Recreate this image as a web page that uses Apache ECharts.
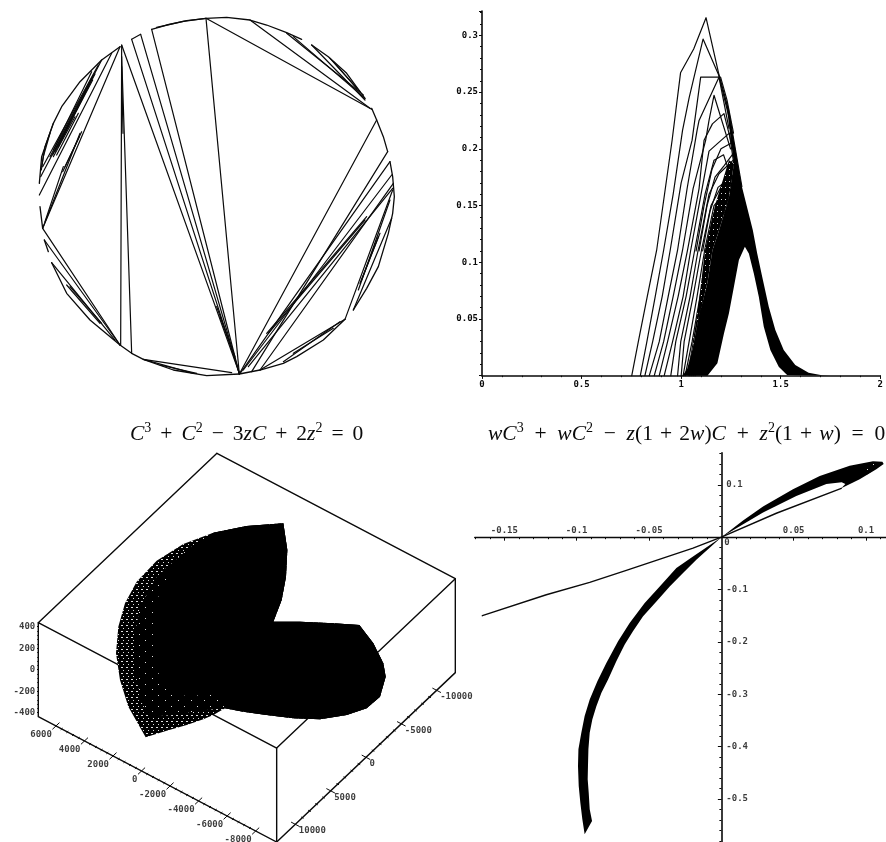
<!DOCTYPE html>
<html>
<head>
<meta charset="utf-8">
<style>html,body{margin:0;padding:0;background:#fff}#c{width:886px;height:842px}</style>
<script src="https://cdn.jsdelivr.net/npm/echarts@6/dist/echarts.min.js"></script>
</head>
<body>
<div id="c"></div>
<script>
// ---------- Panel A: image of the disc (readings on the disc's own square frame) ----------
const discFrameX = [118, 1182];
const discFrameY = [56, 1120];
const discArcs = [
  [[455,88],[500,75],[560,62],[618,55],[680,52],[750,60],[800,75],[860,98],[905,118]],
  [[470,82],[550,64],[618,55]],
  [[935,135],[985,170],[1040,220],[1095,295]],
  [[1115,325],[1130,360],[1150,410],[1163,455]],
  [[1170,485],[1178,530],[1183,590],[1178,640],[1165,700],[1135,800],[1100,865],[1060,930]],
  [[1035,958],[970,1020],[890,1070],[850,1090],[780,1110],[718,1122]],
  [[718,1122],[620,1127],[520,1110],[430,1078],[395,1060],[360,1035]],
  [[360,1035],[270,960],[200,880],[155,788]],
  [[133,720],[145,755]],
  [[128,685],[120,620]],
  [[118,550],[125,470],[160,370],[185,320],[240,245],[305,180],[360,140]]
];
const discChords = [
  [[128,685],[360,140]], [[335,160],[118,585]], [[305,180],[122,530]], [[295,195],[128,500]],
  [[275,215],[160,450]], [[160,370],[135,440],[125,500]], [[150,400],[130,470],[124,510]],
  [[240,400],[128,685]], [[190,500],[135,665]], [[225,350],[160,470]], [[235,340],[170,465]],
  [[150,470],[280,225]], [[158,465],[285,222]], [[165,455],[278,240]], [[175,440],[265,260]],
  [[195,500],[245,395]], [[188,515],[238,410]],
  [[365,135],[718,1120]], [[395,118],[718,1120]], [[395,118],[422,103]], [[422,103],[718,1120]],
  [[455,88],[718,1122]], [[618,55],[718,1122]], [[365,135],[362,1035]], [[365,170],[395,1060]],
  [[365,200],[369,400]], [[618,55],[1115,328]], [[750,60],[1110,325]], [[860,100],[1090,285]],
  [[880,110],[1095,295]], [[935,135],[1095,300]], [[990,175],[1080,275]], [[1000,185],[1070,265]],
  [[1130,360],[718,1122]], [[1163,455],[755,1115]], [[1170,485],[722,1118]], [[1175,525],[730,1110]],
  [[1180,550],[780,1110]], [[1178,565],[745,1100]], [[1100,650],[800,1000]], [[1095,660],[805,1000]],
  [[1178,570],[1035,958]], [[1035,958],[780,1110]], [[1020,965],[850,1085]], [[1000,985],[880,1060]],
  [[1175,655],[1060,930]], [[1170,600],[1075,870]], [[1140,700],[1080,850]], [[1135,710],[1085,840]],
  [[133,720],[360,1035]], [[155,788],[345,1020]], [[200,855],[300,970]], [[210,860],[305,970]],
  [[430,1078],[695,1118]], [[430,1078],[580,1120]], [[480,1095],[590,1120]], [[128,685],[360,1035]],
  [[700,1060],[660,950]], [[705,1070],[650,920]]
];

// ---------- Panel B: family of curves, x and y in plot units ----------
const curveXTicks = {min: 0, max: 2, step: 0.5};
const curveYTicks = {min: 0, max: 0.3215, step: 0.05};
const curves = [
  [[.752,0],[.785,.03],[.83,.07],[.877,.1106],[.955,.208],[.997,.267],[1.063,.288],[1.125,.3156],[1.188,.2668],[1.238,.2344],[1.305,.1668]],
  [[.795,0],[.828,.03],[.87,.07],[.912,.1106],[.96,.16],[1.007,.2163],[1.04,.245],[1.11,.2968],[1.188,.2653],[1.24,.228]],
  [[.818,0],[.857,.03],[.905,.07],[.945,.1106],[1.0,.17],[1.055,.2076],[1.098,.2632],[1.198,.2632],[1.23,.2432],[1.263,.2138]],
  [[.84,0],[.89,.03],[.935,.07],[.982,.1106],[1.03,.165],[1.08,.2163],[1.09,.225],[1.19,.2632],[1.24,.218]],
  [[.865,0],[.912,.03],[.96,.07],[1.007,.1106],[1.06,.165],[1.123,.2075],[1.14,.225],[1.165,.2472],[1.248,.2]],
  [[.89,0],[.932,.03],[.985,.07],[1.032,.1106],[1.09,.165],[1.115,.2075],[1.157,.222],[1.215,.231],[1.26,.2]],
  [[.915,0],[.957,.03],[1.01,.07],[1.048,.1106],[1.10,.16],[1.14,.198],[1.185,.205],[1.242,.2138],[1.27,.18]],
  [[.948,0],[.973,.03],[1.025,.07],[1.068,.1106],[1.12,.16],[1.165,.19],[1.213,.1947],[1.27,.165]],
  [[.982,0],[.998,.03],[1.045,.07],[1.085,.1106],[1.14,.16],[1.19,.178],[1.263,.1903],[1.29,.16]],
  [[1.0,0],[1.015,.03],[1.06,.07],[1.102,.1106],[1.15,.15],[1.238,.1785],[1.285,.14]],
  [[1.01,0],[1.04,.03],[1.08,.07],[1.118,.1106],[1.165,.15],[1.272,.1726],[1.3,.14]],
  [[1.02,0],[1.055,.03],[1.095,.07],[1.135,.1106],[1.18,.14],[1.263,.1624],[1.31,.125]],
  [[1.04,0],[1.07,.03],[1.11,.07],[1.152,.1106],[1.2,.14],[1.28,.158],[1.315,.125]],
  [[1.05,0],[1.08,.03],[1.125,.07],[1.17,.1106],[1.215,.135],[1.28,.1506],[1.31,.125]],
  [[1.06,0],[1.09,.03],[1.14,.07],[1.19,.11],[1.23,.13],[1.29,.14],[1.315,.13]],
  [[1.07,0],[1.10,.03],[1.155,.07],[1.205,.11],[1.25,.125],[1.30,.13],[1.32,.125]],
  [[1.075,.11],[1.115,.15],[1.155,.182],[1.2,.2],[1.25,.205]],
  [[1.09,.11],[1.13,.15],[1.17,.175],[1.215,.185],[1.262,.196]],
  [[1.108,.11],[1.145,.145],[1.185,.166],[1.23,.172],[1.27,.178]],
  [[1.126,.11],[1.16,.14],[1.2,.158],[1.245,.164],[1.278,.165]],
  [[1.143,.11],[1.178,.135],[1.215,.15],[1.255,.155],[1.285,.155]]
];
const curveMass = [[1.007,0],[1.03,.006],[1.057,.0233],[1.09,.0526],[1.132,.0819],[1.157,.1106],[1.19,.128],[1.24,.157],[1.265,.187],[1.245,.214],[1.23,.236],[1.188,.2668],[1.238,.2344],[1.305,.1668],[1.36,.1283],[1.382,.1077],[1.407,.0872],[1.44,.0608],[1.473,.0403],[1.515,.0227],[1.573,.0095],[1.64,.0027],[1.707,.0004],[1.75,0],[1.532,.0007],[1.49,.008],[1.448,.0227],[1.415,.0432],[1.39,.0696],[1.365,.0902],[1.34,.1077],[1.32,.1136],[1.29,.1019],[1.265,.0784],[1.24,.055],[1.215,.0373],[1.182,.011],[1.132,0]];
const curveSpeckle = [[1.03,0],[1.08,.0526],[1.12,.1106],[1.17,.15],[1.24,.19],[1.265,.187],[1.24,.157],[1.19,.128],[1.157,.1106],[1.132,.0819],[1.09,.0526],[1.057,.0233]];

// ---------- Panel C: 3-D box. Axis ranges and tick labels ----------
const boxA = [7238, -9472];
const boxB = [-12640, 12640];
const boxZ = [-437, 437];
const aLabels = [6000, 4000, 2000, 0, -2000, -4000, -6000, -8000];
const bLabels = [10000, 5000, 0, -5000, -10000];
const zLabels = [400, 200, 0, -200, -400];
const viewFrameX = [115, 1366];
const viewFrameY = [158, 1326];
// surface silhouette as seen in the view plane
const surfaceEast = [[850,370],[862,450],[858,530],[845,600],[820,665],[900,665],[1000,670],[1078,675],[1120,730],[1150,790],[1157,830],[1140,890],[1100,925],[1040,945],[960,958],[880,955],[800,945],[730,935],[675,925]];
const surfaceWest = [[640,945],[610,958],[560,975],[500,992],[437,1012],[385,920],[360,840],[348,760],[355,680],[375,610],[410,545],[470,482],[550,432],[640,398],[740,378]];
const surfaceMidWest = [[620,930],[520,945],[450,950],[420,900],[405,800],[405,700],[420,620],[470,530],[560,450],[640,398],[740,378]];
const surfaceCoreWest = [[650,880],[560,890],[480,850],[460,700],[470,600],[520,500],[640,398],[740,378]];

// ---------- Panel D: plane curve, x and y in plot units ----------
const algFrameX = [-0.1705, 0.1138];
const algFrameY = [-0.582, 0.1613];
const algXLabels = [-0.15, -0.1, -0.05, 0.05, 0.1];
const algYLabels = [0.1, -0.1, -0.2, -0.3, -0.4, -0.5];
const algXMinor = [-0.17,-0.16,-0.15,-0.14,-0.13,-0.12,-0.11,-0.1,-0.09,-0.08,-0.07,-0.06,-0.05,-0.04,-0.03,-0.02,-0.01,0.01,0.02,0.03,0.04,0.05,0.06,0.07,0.08,0.09,0.1,0.11];
const algYMinor = [0.16,0.14,0.12,0.1,0.08,0.06,0.04,0.02,-0.02,-0.04,-0.06,-0.08,-0.1,-0.12,-0.14,-0.16,-0.18,-0.2,-0.22,-0.24,-0.26,-0.28,-0.3,-0.32,-0.34,-0.36,-0.38,-0.4,-0.42,-0.44,-0.46,-0.48,-0.5,-0.52,-0.54,-0.56,-0.58];
const algThin = [[-.1652,-.1499],[-.121,-.1099],[-.091,-.0864],[-.0657,-.0635],[-.0196,-.021],[0,0],[.038,.0457],[.0829,.0933]];
const algUpperBand = [[0,0],[.015,.0318],[.0288,.0584],[.0495,.0914],[.068,.1168],[.0887,.1365],[.1048,.1448],[.1113,.1441],[.1122,.1397],[.1071,.1295],[.0956,.1105],[.0829,.0933],[.0857,.1016],[.0832,.1048],[.0726,.1016],[.0518,.0787],[.0288,.047],[.0104,.0171]];
const algUpperTip = [[.1002,.1378],[.1113,.143],[.1071,.1314],[.1002,.1187]];
const algLowerBand = [[0,0],[-.0196,-.0368],[-.0311,-.059],[-.0426,-.094],[-.053,-.1257],[-.0634,-.1638],[-.0714,-.1988],[-.0795,-.24],[-.0857,-.275],[-.091,-.3099],[-.0945,-.3416],[-.0968,-.3734],[-.0988,-.4051],[-.0991,-.4369],[-.0986,-.475],[-.0975,-.5067],[-.0961,-.5385],[-.0945,-.5671],[-.0894,-.5417],[-.091,-.5194],[-.0917,-.4877],[-.0924,-.4623],[-.0922,-.4369],[-.0919,-.4051],[-.091,-.3734],[-.0892,-.348],[-.0864,-.3226],[-.0829,-.2972],[-.0783,-.2718],[-.0726,-.2369],[-.0668,-.2051],[-.0611,-.1797],[-.0541,-.1511],[-.0449,-.1226],[-.0357,-.094],[-.0265,-.0686],[-.0173,-.0432]];

// ---------- equations ----------
const sp1 = '\u2004\u200a';
const eq1 = '{i|C}{s|3}' + sp1 + '+' + sp1 + '{i|C}{s|2}' + sp1 + '−' + sp1 + '3{i|zC}' + sp1 + '+' + sp1 + '2{i|z}{s|2}' + sp1 + '=' + sp1 + '0';
const eq2 = '{i|wC}{s|3}\u2002+\u2002{i|wC}{s|2}\u2002−\u2002{i|z}(1\u2004+\u20042{i|w}){i|C}\u2002+\u2002{i|z}{s|2}(1\u2004+\u2004{i|w})\u2002=\u20020';

// ---------- helpers ----------
const INK = '#0a0a0a';
const MONO = '"DejaVu Sans Mono"';
function pattern(w, h, dots) {
  const c = document.createElement('canvas');
  c.width = w; c.height = h;
  const g = c.getContext('2d');
  g.fillStyle = '#000'; g.fillRect(0, 0, w, h);
  g.fillStyle = '#ddd';
  dots.forEach(d => g.fillRect(d[0], d[1], d[2], d[3]));
  return {image: c, repeat: 'repeat'};
}
const denseDots = pattern(5, 6, [[1,1,2,1],[3,4,1,1]]);
const sparseDots = pattern(13, 11, [[2,2,1,1],[9,7,1,1]]);
const curveDots = pattern(4, 6, [[1,1,1,1]]);

function line(xi, yi, pts, w) {
  return {type:'line', xAxisIndex:xi, yAxisIndex:yi, data:pts, showSymbol:false, symbol:'none', smooth:false, silent:true, clip:false,
    lineStyle:{color:INK, width:w||1.1, cap:'round', join:'round'}, animation:false, z:3};
}
function poly(xi, yi, pts, fill, z) {
  return {type:'custom', xAxisIndex:xi, yAxisIndex:yi, data:pts, silent:true, animation:false, z:z||4, clip:false,
    renderItem(p, api){
      if (p.dataIndex !== 0) return null;
      return {type:'polygon', shape:{points:pts.map(q => api.coord(q))}, style:{fill:fill, stroke:null}};
    }};
}
function project(a, b, z) {
  return [692.6 - .0428*a - .0212*b, 717.9 - .0225*a + .0201*b - .3225*z];
}
function pointLabels(xi, yi, items, align, ox, oy) {
  return {type:'scatter', xAxisIndex:xi, yAxisIndex:yi, symbolSize:0, silent:true, animation:false, z:7, clip:false,
    data: items.map(it => ({value:it[0], name:String(it[1])})),
    label:{show:true, position:'inside', align:align, verticalAlign:'middle', offset:[ox,oy], formatter:'{b}', fontFamily:MONO, fontWeight:'bold', fontSize:9, color:INK}};
}

// 3-D box edges
const [aHi, aLo] = boxA, [bLo, bHi] = boxB, [zLo, zHi] = boxZ;
const boxEdges = [
  [project(aHi,bLo,zHi), project(aHi,bHi,zHi), project(aLo,bHi,zHi), project(aLo,bLo,zHi), project(aHi,bLo,zHi)],
  [project(aHi,bHi,zHi), project(aHi,bHi,zLo), project(aLo,bHi,zLo), project(aLo,bLo,zLo), project(aLo,bLo,zHi)],
  [project(aLo,bHi,zHi), project(aLo,bHi,zLo)]
];
const boxTicks = [];
for (let a = 6000; a >= -8000; a -= 400) {
  const r = a % 2000 === 0 ? 500 : 130;
  boxTicks.push({coords:[project(a,bHi-r,zLo), project(a,bHi+r,zLo)]});
}
for (let b = -10000; b <= 10000; b += 1000) {
  const r = b % 5000 === 0 ? 300 : 90;
  boxTicks.push({coords:[project(-9472-r,b,zLo), project(-9472+r,b,zLo)]});
}
for (let z = -400; z <= 400; z += 40) {
  const p = project(aHi,bHi,z), r = z % 200 === 0 ? 8 : 3;
  boxTicks.push({coords:[[p[0]-r,p[1]],[p[0]+2,p[1]]]});
}

const hidden = g => ({gridIndex:g, type:'value', show:false});
const tickStyle = {color:INK, width:1};
const eqStyle = {fontFamily:'"Liberation Serif"', fontSize:21.5, fontWeight:'normal', color:INK, lineHeight:26,
  rich:{i:{fontFamily:'"Liberation Serif"', fontStyle:'italic', fontSize:21.5, color:INK, lineHeight:26},
        s:{fontFamily:'"Liberation Serif"', fontSize:14, color:INK, lineHeight:26, verticalAlign:'top'}}};
const option = {
  backgroundColor:'#fff', animation:false, tooltip:{show:false},
  title:[
    {text:eq1, left:125, top:416, textStyle:eqStyle},
    {text:eq2, left:483, top:416, textStyle:eqStyle}
  ],
  grid:[
    {left:39.33, top:18.67, width:354.67, height:354.67},
    {left:482, top:11, width:400, height:364.7},
    {left:38.33, top:452.67, width:417, height:389.33},
    {left:474.7, top:452.7, width:411.3, height:389.3}
  ],
  xAxis:[
    {...hidden(0), min:discFrameX[0], max:discFrameX[1]},
    {gridIndex:1, type:'value', min:curveXTicks.min, max:curveXTicks.max, interval:curveXTicks.step, splitLine:{show:false},
      axisLine:{lineStyle:{color:INK, width:1.6}}, axisTick:{length:3, lineStyle:tickStyle}, minorTick:{show:true, splitNumber:5, length:1.5, lineStyle:tickStyle},
      axisLabel:{margin:4, fontFamily:MONO, fontWeight:'bold', fontSize:9, color:INK}},
    {gridIndex:1, type:'value', min:curveXTicks.min, max:curveXTicks.max, interval:curveXTicks.step, splitLine:{show:false},
      axisLine:{show:false}, axisLabel:{show:false}, axisTick:{inside:true, length:3, lineStyle:tickStyle}, minorTick:{show:false}},
    {...hidden(2), min:viewFrameX[0], max:viewFrameX[1]},
    {gridIndex:3, type:'value', min:algFrameX[0], max:algFrameX[1], splitLine:{show:false},
      axisLine:{onZero:true, lineStyle:{color:INK, width:1.3}},
      axisTick:{length:3.5, customValues:algXLabels, lineStyle:tickStyle},
      axisLabel:{show:false}},
    {gridIndex:3, type:'value', min:algFrameX[0], max:algFrameX[1], splitLine:{show:false},
      axisLine:{show:false, onZero:true}, axisLabel:{show:false},
      axisTick:{inside:true, length:2, customValues:algXMinor, lineStyle:tickStyle}}
  ],
  yAxis:[
    {...hidden(0), min:discFrameY[0], max:discFrameY[1], inverse:true},
    {gridIndex:1, type:'value', min:curveYTicks.min, max:curveYTicks.max, interval:curveYTicks.step, splitLine:{show:false},
      axisLine:{lineStyle:{color:INK, width:1.6}}, axisTick:{length:3, lineStyle:tickStyle}, minorTick:{show:true, splitNumber:5, length:2, lineStyle:tickStyle},
      axisLabel:{margin:4, showMaxLabel:false, showMinLabel:false, fontFamily:MONO, fontWeight:'bold', fontSize:9, color:INK}},
    {gridIndex:1, type:'value', min:curveYTicks.min, max:curveYTicks.max, interval:curveYTicks.step, splitLine:{show:false},
      axisLine:{show:false}, axisLabel:{show:false}, axisTick:{show:false}, minorTick:{show:false}},
    {...hidden(2), min:viewFrameY[0], max:viewFrameY[1], inverse:true},
    {gridIndex:3, type:'value', min:algFrameY[0], max:algFrameY[1], splitLine:{show:false},
      axisLine:{onZero:true, lineStyle:{color:INK, width:1.6}},
      axisTick:{length:3.5, customValues:algYLabels, lineStyle:tickStyle},
      axisLabel:{show:false}},
    {gridIndex:3, type:'value', min:algFrameY[0], max:algFrameY[1], splitLine:{show:false},
      axisLine:{show:false, onZero:true}, axisLabel:{show:false},
      axisTick:{inside:true, length:2, customValues:algYMinor, lineStyle:tickStyle}}
  ],
  series:[
    ...discArcs.map(p => line(0,0,p,1.3)),
    ...discChords.map(p => line(0,0,p,1.2)),
    ...curves.map(p => line(1,1,p,1.2)),
    poly(1,1,curveSpeckle,curveDots,4),
    poly(1,1,curveMass,'#000',5),
    ...boxEdges.map(p => line(3,3,p,1.4)),
    {type:'lines', coordinateSystem:'cartesian2d', xAxisIndex:3, yAxisIndex:3, silent:true, animation:false, z:3,
      lineStyle:{color:INK, width:1, opacity:1}, data:boxTicks},
    poly(3,3,[...surfaceEast, ...surfaceWest],denseDots,4),
    poly(3,3,[...surfaceEast, ...surfaceMidWest],sparseDots,5),
    poly(3,3,[...surfaceEast, ...surfaceCoreWest],'#000',6),
    pointLabels(3,3,aLabels.map(a => [project(a,bHi,zLo),a]),'right',-4,8.3),
    pointLabels(3,3,bLabels.map(b => [project(aLo,b,zLo),b]),'left',3.5,6.7),
    pointLabels(3,3,zLabels.map(z => [project(aHi,bHi,z),z]),'right',-3,0),
    poly(4,4,algUpperBand,'#000',4),
    poly(4,4,algUpperTip,sparseDots,5),
    poly(4,4,algLowerBand,'#000',4),
    line(4,4,algThin,1.4),
    pointLabels(4,4,algXLabels.map(x => [[x,0],x]),'center',0,-7),
    pointLabels(4,4,algYLabels.map(y => [[0,y],y]),'left',5,0),
    pointLabels(4,4,[[[0,0],0]],'left',3,5)
  ]
};
const chart = echarts.init(document.getElementById('c'), null, {renderer:'canvas'});
chart.setOption(option);
</script>
</body>
</html>
